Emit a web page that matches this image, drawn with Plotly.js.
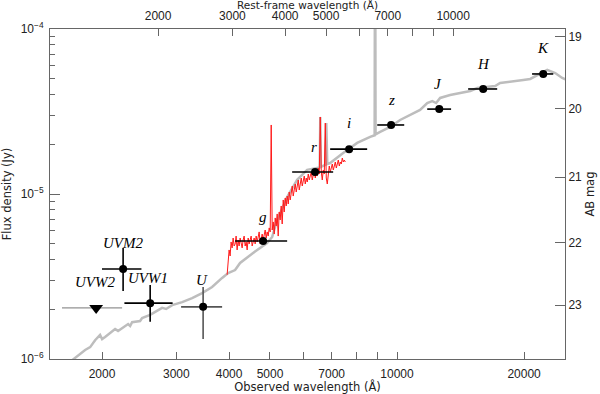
<!DOCTYPE html>
<html><head><meta charset="utf-8">
<script src="https://cdn.plot.ly/plotly-3.0.1.min.js"></script>
<style>body{margin:0;background:#fff}#c{width:600px;height:394px}</style>
</head><body><div id="c"></div>
<script>
// ---- data ----
const templateWave = [1680,1824,1875,1926,1979,2001,2034,2090,2148,2183,2232,2306,2332,2357,2462,2489,2600,2776,2838,2932,3097,3270,3453,3647,3851,3980,4134,4248,4560,4922,5061,5198,5491,5799,6124,6467,6560,6579,6600,6760,6798,6835,6943,7453,8046,8637,8850,8872,8895,9120,9632,10170,10740,11340,11790,12120,12380,12650,13360,14350,14910,15490,16620,17080,17550,18540,19910,20680,21480,22690,23700,24620,25290];
const templateFlux = [0.96e-6,1.135e-6,1.18e-6,1.30e-6,1.40e-6,1.32e-6,1.36e-6,1.44e-6,1.52e-6,1.48e-6,1.54e-6,1.63e-6,1.585e-6,1.67e-6,1.70e-6,1.77e-6,1.85e-6,2.04e-6,2.01e-6,2.12e-6,2.21e-6,2.34e-6,2.51e-6,2.73e-6,3.10e-6,3.32e-6,3.46e-6,3.82e-6,4.39e-6,5.05e-6,5.49e-6,6.95e-6,9.59e-6,1.22e-5,1.40e-5,1.44e-5,1.45e-5,2.93e-5,1.46e-5,1.50e-5,2.69e-5,1.52e-5,1.54e-5,1.77e-5,2.04e-5,2.22e-5,2.27e-5,1e-3,2.30e-5,2.38e-5,2.55e-5,2.81e-5,3.01e-5,3.23e-5,3.56e-5,3.66e-5,3.56e-5,3.82e-5,3.98e-5,4.15e-5,4.21e-5,4.39e-5,4.45e-5,4.51e-5,4.71e-5,4.78e-5,4.91e-5,4.98e-5,5.26e-5,5.65e-5,5.41e-5,5.05e-5,4.91e-5];

const specWave = [3958,3980,4001,4023,4045,4067,4090,4112,4135,4157,4180,4203,4226,4249,4272,4296,4319,4343,4367,4391,4415,4439,4463,4488,4512,4537,4562,4587,4612,4637,4663,4688,4714,4740,4766,4792,4818,4845,4871,4898,4925,4952,4979,5006,5034,5061,5089,5117,5145,5173,5201,5230,5258,5287,5316,5345,5375,5404,5434,5463,5493,5524,5554,5584,5615,5646,5676,5708,5739,5770,5802,5834,5866,5898,5930,5963,5995,6028,6061,6094,6128,6161,6195,6229,6263,6297,6332,6367,6402,6437,6472,6507,6543,6579,6615,6651,6688,6724,6761,6798,6835,6873,6910,6948,6986,7024,7063,7101,7141,7180,7219,7259,7298,7338,7378,7419,7459,7500,7541];
const specFlux = [3.24e-6,3.87e-6,4.58e-6,4.21e-6,5.12e-6,4.71e-6,5.41e-6,4.84e-6,4.98e-6,5.56e-6,4.58e-6,5.26e-6,4.84e-6,5.41e-6,4.98e-6,4.71e-6,5.26e-6,5.56e-6,4.84e-6,5.12e-6,4.58e-6,5.41e-6,4.98e-6,5.26e-6,5.56e-6,4.84e-6,5.12e-6,5.41e-6,4.98e-6,5.56e-6,5.12e-6,5.41e-6,5.89e-6,4.98e-6,5.41e-6,5.72e-6,5.26e-6,5.56e-6,6.05e-6,5.41e-6,5.89e-6,5.56e-6,6.23e-6,5.89e-6,2.62e-5,6.05e-6,6.77e-6,5.72e-6,7.16e-6,6.40e-6,7.57e-6,5.56e-6,7.78e-6,6.96e-6,8.46e-6,6.58e-6,9.20e-6,7.78e-6,9.46e-6,8.46e-6,9.72e-6,8.70e-6,1.028e-5,9.20e-6,1.000e-5,1.118e-5,9.72e-6,1.057e-5,1.150e-5,1.028e-5,1.118e-5,1.216e-5,1.057e-5,1.150e-5,1.250e-5,1.118e-5,1.216e-5,1.285e-5,1.150e-5,1.250e-5,1.182e-5,1.322e-5,1.216e-5,1.285e-5,1.359e-5,1.216e-5,1.322e-5,1.398e-5,1.250e-5,1.359e-5,1.285e-5,1.437e-5,1.322e-5,2.93e-5,1.359e-5,1.216e-5,1.398e-5,1.322e-5,2.69e-5,1.250e-5,1.150e-5,1.398e-5,1.478e-5,1.359e-5,1.437e-5,1.520e-5,1.398e-5,1.478e-5,1.563e-5,1.437e-5,1.520e-5,1.607e-5,1.478e-5,1.563e-5,1.520e-5,1.652e-5,1.563e-5,1.607e-5,1.563e-5];

const bandNames  = ['UVM2','UVW1','U','g','r','i','z','J','H','K'];
const bandWave   = [2244,2601,3472,4816,6394,7700,9683,12590,16000,22200];
const bandWaveLo = [2000,2260,3079,4134,5643,6943,8976,11790,14740,20890];
const bandWaveHi = [2480,2940,3851,5491,7058,8496,10400,13430,17270,23450];
const bandFlux   = [3.51e-6,2.18e-6,2.07e-6,5.19e-6,1.36e-5,1.87e-5,2.62e-5,3.27e-5,4.33e-5,5.34e-5];
const bandFluxLo = [2.58e-6,1.68e-6,1.32e-6,null,null,null,null,null,null,null];
const bandFluxHi = [4.71e-6,2.81e-6,2.73e-6,null,null,null,null,null,null,null];
const bandLabelWave = [2244,2572,3453,4816,6363,7700,9683,12520,16000,22200];
const bandLabelFlux = [5.05e-6,3.10e-6,3.01e-6,7.26e-6,1.93e-5,2.69e-5,3.72e-5,4.64e-5,6.14e-5,7.67e-5];

const limitName = 'UVW2';
const limitWave = [1937];
const limitWaveLo = [1608];
const limitWaveHi = [2232];
const limitFlux = [2.04e-6];
const limitLabelWave = [1926];
const limitLabelFlux = [2.93e-6];

const obsTicks = [2000,3000,4000,5000,7000,10000,20000];
const obsTickLabels = ['2000','3000','4000','5000','7000','10000','20000'];
const obsMinorTicks = [6000,8000,9000];
const restTicks = [2000,3000,4000,5000,7000,10000];
const restTickLabels = ['2000','3000','4000','5000','7000','10000'];
const restMinorTicks = [6000,8000,9000];
const fluxTicks = [1e-6,1e-5,1e-4];
const fluxTickLabels = ['10<sup>−6</sup>','10<sup>−5</sup>','10<sup>−4</sup>'];
const fluxMinor = [2e-6,3e-6,4e-6,5e-6,6e-6,7e-6,8e-6,9e-6,2e-5,3e-5,4e-5,5e-5,6e-5,7e-5,8e-5,9e-5];
const magTicks = [19,20,21,22,23];
const redshift = 0.358;
const obsRange = [1506, 25000];
const fluxRange = [1e-6, 1e-4];
const topTitle = 'Rest-frame wavelength (Å)';

// ---- build ----
const L = Math.log10;
const abMag = f => -2.5*L(f/3631);
const idx = bandNames.map((_,i)=>i);
const blackIdx = idx.filter(i=>bandNames[i]!=='U');
const grayIdx = idx.filter(i=>bandNames[i]==='U');
function ptTrace(ids, col){
  return {
    x: ids.map(i=>bandWave[i]), y: ids.map(i=>bandFlux[i]),
    mode:'markers', type:'scatter', xaxis:'x', yaxis:'y', hoverinfo:'skip', showlegend:false,
    marker:{color:'#000', size:8},
    error_x:{type:'data', symmetric:false, array: ids.map(i=>bandWaveHi[i]-bandWave[i]), arrayminus: ids.map(i=>bandWave[i]-bandWaveLo[i]), color:col, thickness:1.6, width:0},
    error_y:{type:'data', symmetric:false, array: ids.map(i=>bandFluxHi[i]==null?0:bandFluxHi[i]-bandFlux[i]), arrayminus: ids.map(i=>bandFluxLo[i]==null?0:bandFlux[i]-bandFluxLo[i]), color:col, thickness:1.6, width:0}
  };
}
const traces = [
  {x:templateWave, y:templateFlux, mode:'lines', type:'scatter', line:{color:'#bdbdbd', width:2.5}, hoverinfo:'skip', showlegend:false},
  {x:specWave, y:specFlux, mode:'lines', type:'scatter', line:{color:'#ff1a1a', width:1}, hoverinfo:'skip', showlegend:false},
  {x:limitWave, y:limitFlux, mode:'markers', type:'scatter', marker:{symbol:'triangle-down', color:'#000', size:12},
   error_x:{type:'data', symmetric:false, array:limitWaveHi.map((v,i)=>v-limitWave[i]), arrayminus:limitWaveLo.map((v,i)=>limitWave[i]-v), color:'#777', thickness:1, width:0},
   hoverinfo:'skip', showlegend:false},
  ptTrace(blackIdx,'#000'),
  ptTrace(grayIdx,'#555'),
  {x:restTicks, y:restTicks.map(()=>null), xaxis:'x2', yaxis:'y', mode:'markers', type:'scatter', hoverinfo:'skip', showlegend:false},
  {x:obsTicks, y:obsTicks.map(()=>null), xaxis:'x', yaxis:'y2', mode:'markers', type:'scatter', hoverinfo:'skip', showlegend:false}
];
const labFont = {family:'Liberation Serif', size:15, color:'#000'};
const tickFont = {family:'Liberation Sans', size:12, color:'#222'};
const titleFont = {family:'DejaVu Sans', size:11.5, color:'#222'};
const topTitleFont = {family:'DejaVu Sans', size:10.5, color:'#222'};
const annotations = bandNames.map((n,i)=>({x:L(bandLabelWave[i]), y:L(bandLabelFlux[i]), xref:'x', yref:'y', text:'<i>'+n+'</i>', showarrow:false, font:labFont}))
  .concat([{x:L(limitLabelWave[0]), y:L(limitLabelFlux[0]), xref:'x', yref:'y', text:'<i>'+limitName+'</i>', showarrow:false, font:labFont},
           {x:0.5, y:1.0, xref:'paper', yref:'paper', yshift:17, yanchor:'bottom', borderpad:0, text:topTitle, showarrow:false, font:topTitleFont}]);

const axCol = '#666';
const minorX = v => ({tickvals:v, ticks:'inside', ticklen:7, tickcolor:axCol, showgrid:false});
const layout = {
  width:600, height:394, margin:{l:50, r:35, t:29, b:35},
  paper_bgcolor:'#fff', plot_bgcolor:'#fff', showlegend:false,
  xaxis:{type:'log', range:obsRange.map(L), tickvals:obsTicks, ticktext:obsTickLabels, ticks:'inside', ticklen:7, tickcolor:axCol,
    minor:minorX(obsMinorTicks),
    showline:true, linecolor:axCol, linewidth:1, showgrid:false, zeroline:false, tickfont:tickFont, ticklabelstandoff:4,
    title:{text:'Observed wavelength (Å)', font:titleFont, standoff:3}},
  xaxis2:{type:'log', overlaying:'x', side:'top', range:obsRange.map(v=>L(v/(1+redshift))), tickvals:restTicks, ticktext:restTickLabels,
    minor:minorX(restMinorTicks), ticklabelstandoff:3,
    ticks:'inside', ticklen:7, tickcolor:axCol, showline:true, linecolor:axCol, linewidth:1, showgrid:false, zeroline:false, tickfont:tickFont},
  yaxis:{type:'log', range:fluxRange.map(L), tickvals:fluxTicks, ticktext:fluxTickLabels, ticks:'inside', ticklen:10, tickcolor:axCol,
    minor:{tickvals:fluxMinor, ticks:'inside', ticklen:5, tickcolor:axCol, showgrid:false},
    showline:true, linecolor:axCol, linewidth:1, showgrid:false, zeroline:false, tickfont:tickFont, ticklabelstandoff:3,
    title:{text:'Flux density (Jy)', font:titleFont, standoff:6}},
  yaxis2:{type:'log', overlaying:'y', side:'right', range:[L(abMag(fluxRange[0])), L(abMag(fluxRange[1]))], tickvals:magTicks, ticktext:magTicks.map(String),
    ticks:'inside', ticklen:10, tickcolor:axCol, showline:true, linecolor:axCol, linewidth:1, showgrid:false, zeroline:false, tickfont:tickFont,
    title:{text:'AB mag', font:titleFont, standoff:4}},
  annotations: annotations
};
Plotly.newPlot('c', traces, layout, {staticPlot:true, displayModeBar:false});
</script></body></html>
